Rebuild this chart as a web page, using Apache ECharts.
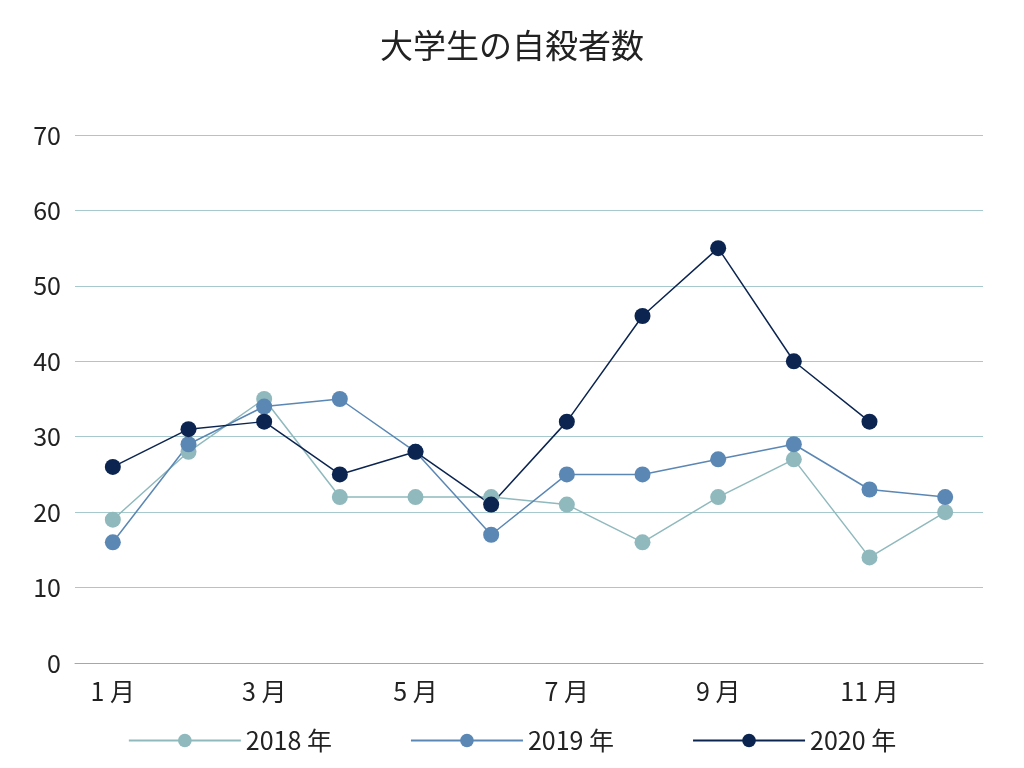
<!DOCTYPE html>
<html><head><meta charset="utf-8">
<script src="https://cdn.jsdelivr.net/npm/echarts@6/dist/echarts.min.js"></script>
<style>html,body{margin:0;padding:0;background:#fff}#c{width:1024px;height:768px}</style>
</head><body><div id="c"></div>
<script>
const categories = ['1 月','2 月','3 月','4 月','5 月','6 月','7 月','8 月','9 月','10 月','11 月','12 月'];
const s2018 = [19,28,35,22,22,22,21,16,22,27,14,20];
const s2019 = [16,29,34,35,28,17,25,25,27,29,23,22];
const s2020 = [26,31,32,25,28,21,32,46,55,40,32,null];
const names = ['2018 年','2019 年','2020 年'];
const colors = ['#8fb9bd','#5b87b4','#0c2550'];
const font = '"Noto Sans CJK JP", "Noto Sans", sans-serif';
const chart = echarts.init(document.getElementById('c'));
const mk = (n, d, c) => ({name:n, type:'line', data:d, symbol:'circle', symbolSize:16,
  itemStyle:{color:c}, lineStyle:{color:c, width:1.5}, z: 2});
chart.setOption({
  animation:false,
  title:{text:'大学生の自殺者数', left:'center', top:24, textStyle:{fontFamily:font, fontSize:33, fontWeight:'normal', color:'#222'}},
  legend:{bottom:10, itemWidth:112, itemHeight:17, itemGap:78, textStyle:{fontFamily:font, fontSize:25, color:'#222'}, data:names},
  grid:{left:75, right:41, top:135, bottom:105},
  xAxis:{type:'category', data:categories, axisTick:{show:false}, axisLine:{lineStyle:{color:'#8fb0b5'}},
    axisLabel:{fontFamily:font, fontSize:25, color:'#222', margin:16}},
  yAxis:{type:'value', min:0, max:70, interval:10, axisLabel:{fontFamily:font, fontSize:25, color:'#222', margin:14},
    splitLine:{lineStyle:{color:'#a5c9cc'}}},
  series:[mk(names[0], s2018, colors[0]), mk(names[1], s2019, colors[1]), mk(names[2], s2020, colors[2])]
});
</script></body></html>
